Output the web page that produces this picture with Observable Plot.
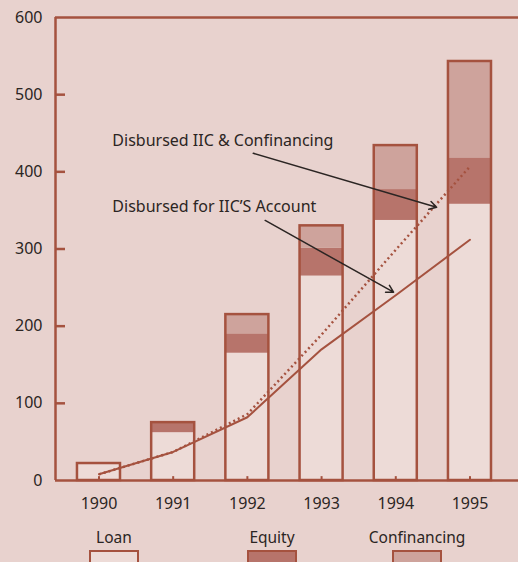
<!DOCTYPE html>
<html><head><meta charset="utf-8">
<script src="https://cdn.jsdelivr.net/npm/d3@7"></script>
<script src="https://cdn.jsdelivr.net/npm/@observablehq/plot@0.6"></script>
<style>
body{margin:0;background:#e8d2ce;font-family:"Noto Sans",sans-serif;color:#2b2523;}
#wrap{position:relative;width:518px;height:562px;overflow:hidden;background:#e8d2ce;}
#legend .item{position:absolute;top:526px;text-align:center;font-size:15.5px;}
#legend .sw{position:absolute;top:550px;width:46px;height:20px;border:2.5px solid #a5523f;}
</style></head><body>
<div id="wrap"><div id="chart"></div><div id="legend"></div></div>
<script>
// ---- data ----
const years = [1990, 1991, 1992, 1993, 1994, 1995];
const loan = [22, 62, 165, 265, 337, 358];
const equity = [0, 13, 25, 36, 40, 60];
const confinancing = [0, 0, 25, 29, 57, 125];
const disbursedForIIC = [8, 37, 82, 170, 240, 312];
const disbursedIICConf = [8, 37, 86, 189, 299, 407];
const yTicks = [0, 100, 200, 300, 400, 500, 600];
const seriesNames = ["Loan", "Equity", "Confinancing"];
const seriesColors = ["#eddbd7", "#b7746b", "#cea39c"];
const annotations = [
  {text: "Disbursed IIC & Confinancing", x: 1990.18, y: 440, ax1: 1992.08, ay1: 424, ax2: 1994.55, ay2: 354},
  {text: "Disbursed for IIC\u2019S Account", x: 1990.18, y: 354, ax1: 1992.24, ay1: 337, ax2: 1993.97, ay2: 244}
];

// ---- derived tables ----
const stack = [];
years.forEach((yr, i) => {
  [loan, equity, confinancing].forEach((arr, k) => stack.push({year: yr, type: seriesNames[k], value: arr[i]}));
});
const totals = years.map((yr, i) => ({year: yr, total: loan[i] + equity[i] + confinancing[i]}));
const lineA = years.map((yr, i) => ({year: yr, v: disbursedForIIC[i]}));
const lineB = years.map((yr, i) => ({year: yr, v: disbursedIICConf[i]}));

const axisColor = "#a5523f";
const half = 0.29;
const xDomain = [1989.414, 1995.654];
const yTickLen = 0.135;   // inward tick length, in years
const xTickLen = 5;       // inward tick length, in value units

const chart = Plot.plot({
  width: 518, height: 515,
  marginLeft: 55, marginRight: 0, marginTop: 17, marginBottom: 35,
  style: {fontSize: "16px", fontFamily: "'Noto Sans', sans-serif", color: "#2b2523", background: "transparent", overflow: "visible"},
  x: {domain: xDomain, axis: null},
  y: {domain: [0, 600], axis: null},
  color: {domain: seriesNames, range: seriesColors},
  marks: [
    Plot.rectY(stack, {x1: d => d.year - half, x2: d => d.year + half, y: "value", fill: "type"}),
    Plot.rectY(totals, {x1: d => d.year - half, x2: d => d.year + half, y: "total", fill: "none", stroke: axisColor, strokeWidth: 2.5}),
    Plot.line(lineB, {x: "year", y: "v", stroke: axisColor, strokeWidth: 2.5, strokeDasharray: "2 3", strokeLinecap: "butt"}),
    Plot.line(lineA, {x: "year", y: "v", stroke: axisColor, strokeWidth: 2}),
    Plot.arrow(annotations, {x1: "ax1", y1: "ay1", x2: "ax2", y2: "ay2", stroke: "#2b2523", strokeWidth: 1.5, headLength: 8, bend: false}),
    Plot.text(annotations, {x: "x", y: "y", text: "text", textAnchor: "start", fill: "#2b2523", fontSize: 16}),
    Plot.ruleX([xDomain[0]], {y1: 0, y2: 600, stroke: axisColor, strokeWidth: 2.5}),
    Plot.ruleY([0, 600], {stroke: axisColor, strokeWidth: 2.5}),
    Plot.ruleY(yTicks.filter(t => t > 0 && t < 600), {x1: xDomain[0], x2: xDomain[0] + yTickLen, stroke: axisColor, strokeWidth: 2.5}),
    Plot.ruleX(years, {y1: 0, y2: xTickLen, stroke: axisColor, strokeWidth: 2}),
    Plot.axisY({ticks: yTicks, tickSize: 0, tickPadding: 13, fontSize: 16, fill: "#2b2523"}),
    Plot.axisX({ticks: years, tickSize: 0, tickPadding: 17, tickFormat: d => String(d), fontSize: 16, fill: "#2b2523"})
  ]
});
document.getElementById("chart").appendChild(chart);

// ---- legend ----
const legend = document.getElementById("legend");
const legendPos = [114, 272, 417];
seriesNames.forEach((name, k) => {
  const lab = document.createElement("div");
  lab.className = "item";
  lab.textContent = name;
  lab.style.left = (legendPos[k] - 60) + "px";
  lab.style.width = "120px";
  legend.appendChild(lab);
  const sw = document.createElement("div");
  sw.className = "sw";
  sw.style.left = (legendPos[k] - 25) + "px";
  sw.style.background = seriesColors[k];
  legend.appendChild(sw);
});
</script>
</body></html>
